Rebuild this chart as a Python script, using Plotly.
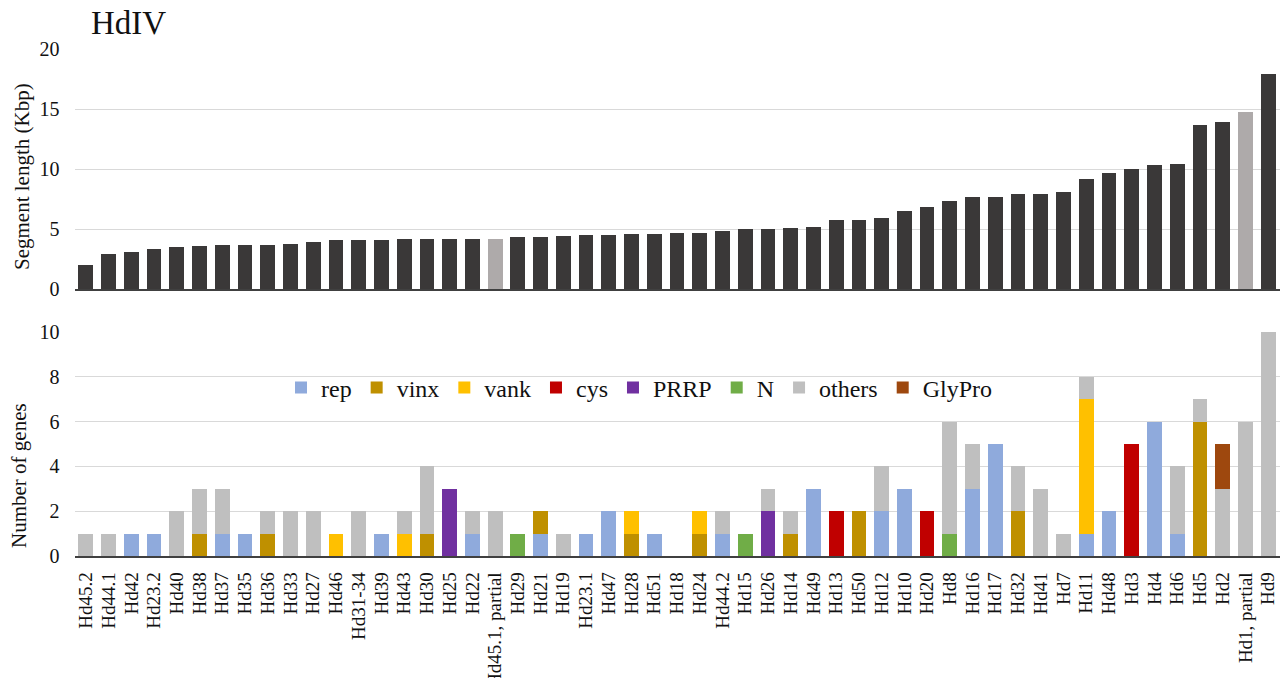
import plotly.graph_objects as go

# Segment names, ordered by segment length
segments = [
    "Hd45.2", "Hd44.1", "Hd42", "Hd23.2", "Hd40", "Hd38", "Hd37", "Hd35", "Hd36", "Hd33",
    "Hd27", "Hd46", "Hd31-34", "Hd39", "Hd43", "Hd30", "Hd25", "Hd22", "Hd45.1, partial", "Hd29",
    "Hd21", "Hd19", "Hd23.1", "Hd47", "Hd28", "Hd51", "Hd18", "Hd24", "Hd44.2", "Hd15",
    "Hd26", "Hd14", "Hd49", "Hd13", "Hd50", "Hd12", "Hd10", "Hd20", "Hd8", "Hd16",
    "Hd17", "Hd32", "Hd41", "Hd7", "Hd11", "Hd48", "Hd3", "Hd4", "Hd6", "Hd5",
    "Hd2", "Hd1, partial", "Hd9",
]

# Segment length (Kbp)
length_kbp = [
    2.0, 2.95, 3.08, 3.33, 3.47, 3.61, 3.69, 3.69, 3.69, 3.78,
    3.92, 4.08, 4.08, 4.08, 4.17, 4.17, 4.17, 4.17, 4.17, 4.31,
    4.31, 4.39, 4.47, 4.47, 4.61, 4.61, 4.69, 4.69, 4.86, 4.97,
    4.97, 5.11, 5.19, 5.75, 5.75, 5.89, 6.5, 6.86, 7.3, 7.69,
    7.69, 7.92, 7.92, 8.05, 9.19, 9.64, 10.0, 10.33, 10.44, 13.69,
    13.92, 14.72, 17.89,
]
partial = ["Hd45.1, partial", "Hd1, partial"]

# Gene counts per family
rep = [0, 0, 1, 1, 0, 0, 1, 1, 0, 0, 0, 0, 0, 1, 0, 0, 0, 1, 0, 0,
       1, 0, 1, 2, 0, 1, 0, 0, 1, 0, 0, 0, 3, 0, 0, 2, 3, 0, 0, 3,
       5, 0, 0, 0, 1, 2, 0, 6, 1, 0, 0, 0, 0]
vinx = [0, 0, 0, 0, 0, 1, 0, 0, 1, 0, 0, 0, 0, 0, 0, 1, 0, 0, 0, 0,
        1, 0, 0, 0, 1, 0, 0, 1, 0, 0, 0, 1, 0, 0, 2, 0, 0, 0, 0, 0,
        0, 2, 0, 0, 0, 0, 0, 0, 0, 6, 0, 0, 0]
vank = [0, 0, 0, 0, 0, 0, 0, 0, 0, 0, 0, 1, 0, 0, 1, 0, 0, 0, 0, 0,
        0, 0, 0, 0, 1, 0, 0, 1, 0, 0, 0, 0, 0, 0, 0, 0, 0, 0, 0, 0,
        0, 0, 0, 0, 6, 0, 0, 0, 0, 0, 0, 0, 0]
cys = [0, 0, 0, 0, 0, 0, 0, 0, 0, 0, 0, 0, 0, 0, 0, 0, 0, 0, 0, 0,
       0, 0, 0, 0, 0, 0, 0, 0, 0, 0, 0, 0, 0, 2, 0, 0, 0, 2, 0, 0,
       0, 0, 0, 0, 0, 0, 5, 0, 0, 0, 0, 0, 0]
prrp = [0, 0, 0, 0, 0, 0, 0, 0, 0, 0, 0, 0, 0, 0, 0, 0, 3, 0, 0, 0,
        0, 0, 0, 0, 0, 0, 0, 0, 0, 0, 2, 0, 0, 0, 0, 0, 0, 0, 0, 0,
        0, 0, 0, 0, 0, 0, 0, 0, 0, 0, 0, 0, 0]
n_fam = [0, 0, 0, 0, 0, 0, 0, 0, 0, 0, 0, 0, 0, 0, 0, 0, 0, 0, 0, 1,
         0, 0, 0, 0, 0, 0, 0, 0, 0, 1, 0, 0, 0, 0, 0, 0, 0, 0, 1, 0,
         0, 0, 0, 0, 0, 0, 0, 0, 0, 0, 0, 0, 0]
others = [1, 1, 0, 0, 2, 2, 2, 0, 1, 2, 2, 0, 2, 0, 1, 3, 0, 1, 2, 0,
          0, 1, 0, 0, 0, 0, 0, 0, 1, 0, 1, 1, 0, 0, 0, 2, 0, 0, 5, 2,
          0, 2, 3, 1, 1, 0, 0, 0, 3, 1, 3, 6, 10]
glypro = [0, 0, 0, 0, 0, 0, 0, 0, 0, 0, 0, 0, 0, 0, 0, 0, 0, 0, 0, 0,
          0, 0, 0, 0, 0, 0, 0, 0, 0, 0, 0, 0, 0, 0, 0, 0, 0, 0, 0, 0,
          0, 0, 0, 0, 0, 0, 0, 0, 0, 0, 2, 0, 0]

families = [
    ("rep", rep, "#8FAADC"),
    ("vinx", vinx, "#BF9000"),
    ("vank", vank, "#FFC000"),
    ("cys", cys, "#C00000"),
    ("PRRP", prrp, "#7030A0"),
    ("N", n_fam, "#70AD47"),
    ("others", others, "#BFBFBF"),
    ("GlyPro", glypro, "#9E480E"),
]

W, H = 1281, 678
FONT = "Liberation Serif, Times New Roman, serif"
TXT = "#111111"


def py(px):
    """Convert a pixel row (from top) into a paper fraction."""
    return 1 - px / H


def px_x(px):
    return px / W


fig = go.Figure()

fig.add_trace(go.Bar(
    x=segments, y=length_kbp,
    marker=dict(color=["#AEAAAA" if s in partial else "#3A3838" for s in segments],
                line=dict(width=0)),
    xaxis="x", yaxis="y", showlegend=False,
))

for name, vals, color in families:
    fig.add_trace(go.Bar(
        x=segments, y=vals, name=name,
        marker=dict(color=color, line=dict(width=0)),
        xaxis="x2", yaxis="y2",
    ))

x_dom = [px_x(74.5), px_x(1279.5)]
grid = "#D9D9D9"
axis_line = "#404040"

fig.update_layout(
    width=W, height=H,
    template="none",
    paper_bgcolor="white", plot_bgcolor="white",
    margin=dict(l=0, r=0, t=0, b=0),
    barmode="stack", bargap=0.35,
    font=dict(family=FONT, color=TXT),
    xaxis=dict(domain=x_dom, anchor="y", categoryorder="array", categoryarray=segments,
               range=[-0.5, len(segments) - 0.5], showticklabels=False, ticks="",
               showgrid=False, showline=True, linecolor=axis_line, linewidth=1.5,
               automargin=False, zeroline=False),
    yaxis=dict(domain=[py(289), py(49)], anchor="x", range=[0, 20], tickvals=[0, 5, 10, 15, 20],
               showgrid=True, gridcolor=grid, gridwidth=1.3, zeroline=False, showline=False,
               ticks="", ticklabelstandoff=14, tickfont=dict(size=20, family=FONT, color=TXT),
               automargin=False),
    xaxis2=dict(domain=x_dom, anchor="y2", categoryorder="array", categoryarray=segments,
                range=[-0.5, len(segments) - 0.5], tickangle=-90, ticks="",
                tickmode="array", tickvals=segments, ticktext=segments,
                tickfont=dict(size=19, family=FONT, color=TXT), ticklabelstandoff=7,
                showgrid=False, showline=True, linecolor=axis_line, linewidth=1.5,
                automargin=False, zeroline=False),
    yaxis2=dict(domain=[py(556), py(332)], anchor="x2", range=[0, 10], tickvals=[0, 2, 4, 6, 8, 10],
                showgrid=True, gridcolor=grid, gridwidth=1.3, zeroline=False, showline=False,
                ticks="", ticklabelstandoff=14, tickfont=dict(size=20, family=FONT, color=TXT),
                automargin=False),
    legend=dict(orientation="h", x=px_x(281), xanchor="left", y=py(388), yanchor="middle",
                font=dict(size=24, family=FONT, color=TXT), bgcolor="rgba(0,0,0,0)",
                traceorder="normal", itemwidth=30),
    annotations=[
        dict(text="HdIV", x=px_x(89), y=py(23), xref="paper", yref="paper",
             xanchor="left", yanchor="middle", showarrow=False,
             font=dict(size=33, family=FONT, color=TXT)),
        dict(text="Segment length (Kbp)", x=px_x(22), y=py(177), xref="paper", yref="paper",
             xanchor="center", yanchor="middle", textangle=-90, showarrow=False,
             font=dict(size=21, family=FONT, color=TXT)),
        dict(text="Number of genes", x=px_x(19), y=py(476), xref="paper", yref="paper",
             xanchor="center", yanchor="middle", textangle=-90, showarrow=False,
             font=dict(size=21, family=FONT, color=TXT)),
    ],
)

fig.write_html("out.html")
